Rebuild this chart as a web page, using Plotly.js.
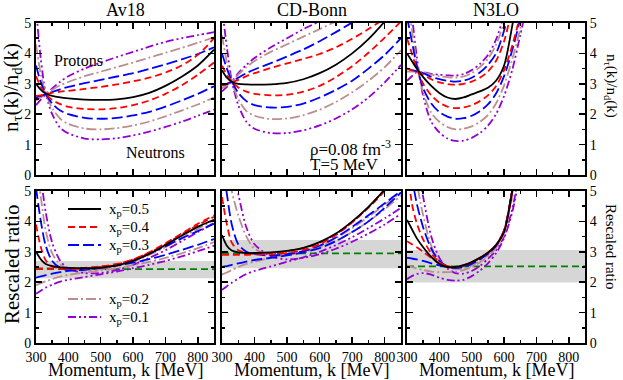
<!DOCTYPE html>
<html>
<head>
<meta charset="utf-8">
<script src="https://cdn.plot.ly/plotly-3.0.1.min.js"></script>
<style>
  body { margin: 0; background: #fff; }
  #plot { width: 623px; height: 380px; }
  #plot text { font-family: 'Liberation Serif', serif !important; }
</style>
</head>
<body>
<div id="plot"></div>
<script>
// momentum grids [MeV]
var K = [300, 315, 330, 350, 375, 400, 450, 500, 550, 600, 650, 700, 750, 800, 850];
var K_N3LO = [300, 315, 330, 350, 375, 400, 425, 450, 475, 500, 525, 550, 575, 600, 625, 650, 675];

var models = ["Av18", "CD-Bonn", "N3LO"];
var xpLabels = ["0.5", "0.4", "0.3", "0.2", "0.1"];

// ---- top row: n_tau(k)/n_d(k), p = protons, n = neutrons ----
var av18_05 = [3.0, 2.8, 2.68, 2.6, 2.55, 2.52, 2.48, 2.47, 2.49, 2.56, 2.7, 2.93, 3.23, 3.6, 4.12];
var av18_04p = [2.6, 2.62, 2.65, 2.7, 2.74, 2.77, 2.83, 2.9, 2.98, 3.08, 3.2, 3.37, 3.6, 3.95, 4.5];
var av18_04n = [3.25, 2.9, 2.67, 2.47, 2.33, 2.24, 2.17, 2.16, 2.2, 2.3, 2.45, 2.67, 2.95, 3.3, 3.7];
var av18_03p = [2.55, 2.6, 2.65, 2.73, 2.82, 2.9, 3.02, 3.13, 3.24, 3.35, 3.49, 3.64, 3.8, 3.98, 4.2];
var av18_03n = [3.6, 3.05, 2.68, 2.35, 2.12, 2.0, 1.88, 1.85, 1.88, 1.96, 2.08, 2.25, 2.45, 2.67, 2.92];
var av18_02p = [2.45, 2.55, 2.65, 2.8, 2.95, 3.06, 3.25, 3.4, 3.55, 3.7, 3.86, 4.02, 4.18, 4.35, 4.53];
var av18_02n = [4.3, 3.3, 2.68, 2.2, 1.85, 1.68, 1.53, 1.5, 1.54, 1.63, 1.76, 1.93, 2.12, 2.32, 2.55];
var av18_01p = [2.3, 2.48, 2.65, 2.85, 3.07, 3.25, 3.5, 3.7, 3.88, 4.05, 4.22, 4.38, 4.5, 4.6, 4.7];
var av18_01n = [5.5, 3.8, 2.7, 2.0, 1.55, 1.37, 1.2, 1.17, 1.21, 1.3, 1.43, 1.58, 1.75, 1.95, 2.15];

var cdb_05 = [3.45, 3.2, 3.07, 3.0, 2.98, 2.97, 2.98, 3.03, 3.15, 3.35, 3.63, 4.0, 4.47, 5.05, 5.7];
var cdb_04p = [2.95, 3.0, 3.05, 3.13, 3.25, 3.35, 3.52, 3.67, 3.82, 3.98, 4.2, 4.48, 4.8, 5.15, 5.55];
var cdb_04n = [3.6, 3.3, 3.08, 2.88, 2.74, 2.67, 2.62, 2.64, 2.74, 2.93, 3.22, 3.58, 4.02, 4.52, 5.05];
var cdb_03p = [2.95, 3.0, 3.07, 3.2, 3.35, 3.47, 3.68, 3.9, 4.13, 4.4, 4.7, 5.02, 5.38, 5.75, 6.1];
var cdb_03n = [4.0, 3.5, 3.1, 2.7, 2.43, 2.3, 2.22, 2.24, 2.35, 2.55, 2.8, 3.1, 3.5, 3.95, 4.5];
var cdb_02p = [2.85, 2.95, 3.07, 3.3, 3.55, 3.75, 4.05, 4.3, 4.55, 4.8, 5.05, 5.3, 5.6, 5.9, 6.2];
var cdb_02n = [4.6, 3.7, 3.08, 2.5, 2.1, 1.95, 1.84, 1.86, 1.97, 2.15, 2.4, 2.72, 3.1, 3.55, 4.1];
var cdb_01p = [2.75, 2.9, 3.07, 3.35, 3.62, 3.85, 4.2, 4.5, 4.8, 5.05, 5.3, 5.6, 5.9, 6.2, 6.5];
var cdb_01n = [5.5, 4.2, 3.1, 2.3, 1.75, 1.52, 1.38, 1.38, 1.47, 1.63, 1.86, 2.16, 2.55, 3.05, 3.62];

var n3lo_05 = [4.0, 3.75, 3.5, 3.22, 2.93, 2.7, 2.55, 2.5, 2.55, 2.65, 2.75, 2.87, 3.1, 3.6, 4.9, 6.5, 8];
var n3lo_04p = [3.5, 3.45, 3.42, 3.3, 3.15, 3.05, 2.99, 2.97, 3.0, 3.07, 3.2, 3.4, 3.75, 4.4, 5.5, 7, 9];
var n3lo_04n = [4.5, 4.0, 3.5, 3.0, 2.62, 2.38, 2.25, 2.2, 2.22, 2.3, 2.43, 2.62, 2.92, 3.45, 4.25, 5.3, 7];
var n3lo_03p = [3.5, 3.45, 3.42, 3.35, 3.23, 3.15, 3.1, 3.07, 3.1, 3.2, 3.37, 3.62, 4.0, 4.75, 6, 7.5, 9];
var n3lo_03n = [5.2, 4.4, 3.6, 2.85, 2.35, 2.07, 1.92, 1.85, 1.87, 1.95, 2.1, 2.32, 2.68, 3.25, 4.1, 5.15, 6.5];
var n3lo_02p = [3.4, 3.4, 3.4, 3.37, 3.3, 3.25, 3.22, 3.2, 3.24, 3.35, 3.55, 3.82, 4.28, 5.05, 6.3, 8, 10];
var n3lo_02n = [6, 4.8, 3.7, 2.7, 2.05, 1.75, 1.58, 1.5, 1.52, 1.6, 1.75, 1.97, 2.35, 2.95, 3.8, 4.8, 6];
var n3lo_01p = [3.1, 3.25, 3.38, 3.38, 3.33, 3.3, 3.28, 3.27, 3.32, 3.45, 3.65, 3.95, 4.45, 5.3, 6.5, 8, 10];
var n3lo_01n = [7, 5.3, 3.9, 2.6, 1.75, 1.4, 1.2, 1.12, 1.13, 1.22, 1.38, 1.62, 2.0, 2.6, 3.45, 4.6, 5.8];

// ---- bottom row: rescaled ratio ----
var av18r_05 = [3.0, 2.75, 2.6, 2.53, 2.49, 2.47, 2.46, 2.48, 2.55, 2.7, 2.93, 3.22, 3.53, 3.82, 4.05];
var av18r_04n = [3.9, 3.15, 2.72, 2.52, 2.46, 2.44, 2.45, 2.5, 2.58, 2.75, 2.98, 3.28, 3.6, 3.92, 4.2];
var av18r_04p = [2.45, 2.45, 2.45, 2.45, 2.45, 2.45, 2.47, 2.52, 2.6, 2.75, 2.97, 3.25, 3.57, 3.88, 4.15];
var av18r_03n = [5.1, 4.0, 3.2, 2.7, 2.47, 2.4, 2.41, 2.47, 2.56, 2.72, 2.94, 3.18, 3.44, 3.68, 3.92];
var av18r_03p = [2.15, 2.19, 2.23, 2.28, 2.33, 2.37, 2.43, 2.48, 2.55, 2.64, 2.76, 2.9, 3.06, 3.23, 3.42];
var av18r_02n = [6, 4.8, 3.7, 2.95, 2.58, 2.45, 2.38, 2.42, 2.52, 2.68, 2.9, 3.15, 3.45, 3.75, 4.05];
var av18r_02p = [1.9, 1.97, 2.03, 2.1, 2.18, 2.24, 2.32, 2.38, 2.46, 2.56, 2.67, 2.8, 2.95, 3.12, 3.32];
var av18r_01n = [7, 5.5, 4.3, 3.3, 2.7, 2.45, 2.3, 2.3, 2.4, 2.57, 2.8, 3.05, 3.35, 3.65, 3.95];
var av18r_01p = [1.62, 1.72, 1.82, 1.92, 2.02, 2.08, 2.17, 2.26, 2.35, 2.46, 2.57, 2.7, 2.85, 3.02, 3.2];

var cdbr_05 = [3.55, 3.2, 3.04, 2.98, 2.96, 2.96, 2.98, 3.03, 3.13, 3.32, 3.6, 4.0, 4.48, 5.05, 5.7];
var cdbr_04n = [4.8, 3.9, 3.3, 3.05, 2.97, 2.93, 2.92, 2.96, 3.06, 3.25, 3.55, 3.97, 4.47, 5.05, 5.7];
var cdbr_04p = [2.9, 2.9, 2.9, 2.9, 2.9, 2.92, 2.96, 3.02, 3.12, 3.3, 3.58, 3.97, 4.45, 5.0, 5.6];
var cdbr_03n = [6, 4.9, 3.9, 3.25, 3.0, 2.92, 2.88, 2.92, 3.02, 3.2, 3.47, 3.82, 4.2, 4.6, 5.0];
var cdbr_03p = [2.5, 2.53, 2.57, 2.62, 2.68, 2.73, 2.8, 2.88, 2.98, 3.12, 3.35, 3.65, 4.0, 4.45, 4.95];
var cdbr_02n = [7, 6, 5, 4.2, 3.5, 3.1, 2.9, 2.9, 3.0, 3.18, 3.45, 3.78, 4.15, 4.55, 4.95];
var cdbr_02p = [2.25, 2.32, 2.4, 2.5, 2.6, 2.67, 2.8, 2.9, 3.0, 3.15, 3.36, 3.65, 4.0, 4.4, 4.85];
var cdbr_01n = [8, 7, 6, 4.9, 3.8, 3.25, 2.85, 2.75, 2.8, 2.92, 3.1, 3.33, 3.6, 3.9, 4.25];
var cdbr_01p = [1.75, 1.87, 1.98, 2.12, 2.27, 2.37, 2.52, 2.67, 2.82, 3.0, 3.22, 3.48, 3.78, 4.1, 4.45];

var n3lor_05 = [4.05, 3.75, 3.45, 3.15, 2.83, 2.6, 2.5, 2.5, 2.56, 2.66, 2.8, 2.97, 3.22, 3.65, 5.0, 6.5, 8];
var n3lor_04n = [6, 4.6, 3.95, 3.4, 2.95, 2.65, 2.52, 2.5, 2.56, 2.66, 2.8, 2.97, 3.22, 3.7, 5.0, 6.5, 8];
var n3lor_04p = [3.35, 3.25, 3.15, 3.0, 2.8, 2.63, 2.53, 2.5, 2.55, 2.65, 2.8, 2.97, 3.22, 3.7, 5.0, 6.5, 8];
var n3lor_03n = [7, 5.5, 4.6, 3.8, 3.1, 2.7, 2.52, 2.47, 2.52, 2.62, 2.76, 2.95, 3.2, 3.7, 5.0, 6.6, 8];
var n3lor_03p = [2.8, 2.78, 2.75, 2.7, 2.62, 2.55, 2.5, 2.48, 2.5, 2.6, 2.75, 2.93, 3.2, 3.7, 5.0, 6.6, 8];
var n3lor_02n = [8, 6.5, 5.3, 4.2, 3.2, 2.7, 2.5, 2.43, 2.45, 2.55, 2.7, 2.9, 3.17, 3.65, 4.9, 6.5, 8];
var n3lor_02p = [2.55, 2.5, 2.45, 2.4, 2.35, 2.33, 2.33, 2.35, 2.4, 2.5, 2.65, 2.85, 3.12, 3.6, 4.8, 6.4, 8];
var n3lor_01n = [9, 7.5, 6, 4.8, 3.5, 2.8, 2.45, 2.3, 2.28, 2.37, 2.53, 2.77, 3.05, 3.5, 4.4, 5.8, 7.5];
var n3lor_01p = [2.1, 2.2, 2.27, 2.3, 2.25, 2.15, 2.08, 2.05, 2.08, 2.2, 2.38, 2.62, 2.95, 3.45, 4.3, 5.6, 7.2];

// band and mean value of the rescaled ratio per model
var bandLow = [2.13, 2.46, 1.99];
var bandHigh = [2.70, 3.39, 3.06];
var meanRatio = [2.43, 2.95, 2.52];

var colors = ["#000000", "#ff0000", "#0000ff", "#bc8f8f", "#9400d3"];
var dashes = ["solid", "7px,4px", "11px,4px", "10px,3px,2px,3px", "8px,3px,2px,3px,2px,3px"];

var FONT = "Liberation Serif";

var panels = [
  { k: K, top: true, sets: [[av18_05], [av18_04p, av18_04n], [av18_03p, av18_03n], [av18_02p, av18_02n], [av18_01p, av18_01n]] },
  { k: K, top: true, sets: [[cdb_05], [cdb_04p, cdb_04n], [cdb_03p, cdb_03n], [cdb_02p, cdb_02n], [cdb_01p, cdb_01n]] },
  { k: K_N3LO, top: true, sets: [[n3lo_05], [n3lo_04p, n3lo_04n], [n3lo_03p, n3lo_03n], [n3lo_02p, n3lo_02n], [n3lo_01p, n3lo_01n]] },
  { k: K, top: false, sets: [[av18r_05], [av18r_04p, av18r_04n], [av18r_03p, av18r_03n], [av18r_02p, av18r_02n], [av18r_01p, av18r_01n]] },
  { k: K, top: false, sets: [[cdbr_05], [cdbr_04p, cdbr_04n], [cdbr_03p, cdbr_03n], [cdbr_02p, cdbr_02n], [cdbr_01p, cdbr_01n]] },
  { k: K_N3LO, top: false, sets: [[n3lor_05], [n3lor_04p, n3lor_04n], [n3lor_03p, n3lor_03n], [n3lor_02p, n3lor_02n], [n3lor_01p, n3lor_01n]] }
];

var traces = [];
panels.forEach(function (p, i) {
  var xa = "x" + (i === 0 ? "" : i + 1);
  var ya = "y" + (i === 0 ? "" : i + 1);
  if (!p.top) {
    var m = i - 3;
    traces.push({
      x: [300, 850, 850, 300], y: [bandLow[m], bandLow[m], bandHigh[m], bandHigh[m]],
      xaxis: xa, yaxis: ya, type: "scatter", mode: "lines", fill: "toself",
      fillcolor: "#d6d6d6", line: { width: 0 }, hoverinfo: "skip"
    });
    traces.push({
      x: [300, 850], y: [meanRatio[m], meanRatio[m]],
      xaxis: xa, yaxis: ya, type: "scatter", mode: "lines",
      line: { color: "#008000", width: 1.8, dash: "7px,4px" }
    });
  }
  for (var s = p.sets.length - 1; s >= 0; s--) {
    p.sets[s].forEach(function (ys) {
      traces.push({
        x: p.k, y: ys, xaxis: xa, yaxis: ya, type: "scatter", mode: "lines",
        line: { color: colors[s], width: 1.8, dash: dashes[s], shape: "spline", smoothing: 0.8 },
        name: "x<sub>p</sub>=" + xpLabels[s]
      });
    });
  }
});

function px(x) { return x / 623; }
function py(y) { return 1 - y / 380; }

var colDom = [[px(36), px(214)], [px(222), px(401)], [px(407), px(585)]];
var rowDom = [[py(175), py(23)], [py(343), py(191)]];

var tickFont = { family: FONT, size: 14, color: "#000" };

function xAxis(i) {
  var bottom = i >= 3;
  return {
    domain: colDom[i % 3], anchor: "y" + (i === 0 ? "" : i + 1),
    range: [300, 850], tick0: 300, dtick: 100,
    ticks: "inside", ticklen: 6, tickwidth: 1.5, tickcolor: "#000",
    minor: { dtick: 50, ticks: "inside", ticklen: 3, tickwidth: 1.5, tickcolor: "#000" },
    mirror: "allticks", showline: true, linewidth: 2, linecolor: "#000",
    showgrid: false, zeroline: false, showticklabels: bottom, tickfont: tickFont
  };
}
function yAxis(i) {
  var col = i % 3;
  return {
    domain: rowDom[i < 3 ? 0 : 1], anchor: "x" + (i === 0 ? "" : i + 1),
    range: [0, 5], dtick: 1, side: col === 2 ? "right" : "left",
    ticks: "inside", ticklen: 6, tickwidth: 1.5, tickcolor: "#000",
    minor: { dtick: 0.5, ticks: "inside", ticklen: 3, tickwidth: 1.5, tickcolor: "#000" },
    mirror: "allticks", showline: true, linewidth: 2, linecolor: "#000",
    showgrid: false, zeroline: false, showticklabels: col !== 1, tickfont: tickFont
  };
}

var layout = {
  width: 623, height: 380,
  margin: { l: 0, r: 0, t: 0, b: 0 },
  paper_bgcolor: "#fff", plot_bgcolor: "#fff",
  showlegend: false,
  annotations: [],
  shapes: []
};
for (var i = 0; i < 6; i++) {
  layout["xaxis" + (i === 0 ? "" : i + 1)] = xAxis(i);
  layout["yaxis" + (i === 0 ? "" : i + 1)] = yAxis(i);
}

function note(text, x, y, size, opts) {
  var a = { text: text, x: px(x), y: py(y), xref: "paper", yref: "paper", showarrow: false,
    font: { family: FONT, size: size, color: "#000" }, xanchor: "center", yanchor: "middle" };
  for (var key in opts) a[key] = opts[key];
  layout.annotations.push(a);
}

// legend (two groups inside the Av18 rescaled panel)
var legendRows = [209, 227, 245, 299, 317];
xpLabels.forEach(function (lab, s) {
  var y = legendRows[s];
  layout.shapes.push({
    type: "line", xref: "paper", yref: "paper",
    x0: px(68), x1: px(101), y0: py(y), y1: py(y),
    line: { color: colors[s], width: 1.8, dash: dashes[s] }
  });
  note("x<sub>p</sub>=" + lab, 107, y + 1, 15, { xanchor: "left" });
});

var centers = [125, 311.5, 496];
models.forEach(function (m, i) { note(m, centers[i], 10, 18); });
centers.forEach(function (c) { note("Momentum, k [MeV]", c, 370, 18); });
note("n<sub>τ</sub>(k)/n<sub>d</sub>(k)", 12, 88, 21, { textangle: -90 });
note("Rescaled ratio", 12, 264, 21, { textangle: -90 });
note("n<sub>τ</sub>(k)/n<sub>d</sub>(k)", 611, 86, 15, { textangle: 90 });
note("Rescaled ratio", 611, 246, 15, { textangle: 90 });
note("Protons", 52, 61, 16, { xanchor: "left" });
note("Neutrons", 124, 152, 16, { xanchor: "left" });
note("ρ=0.08 fm<sup>-3</sup>", 308, 148, 17, { xanchor: "left" });
note("T=5 MeV", 308, 164, 17, { xanchor: "left" });

Plotly.newPlot("plot", traces, layout, { staticPlot: true });
</script>
</body>
</html>
